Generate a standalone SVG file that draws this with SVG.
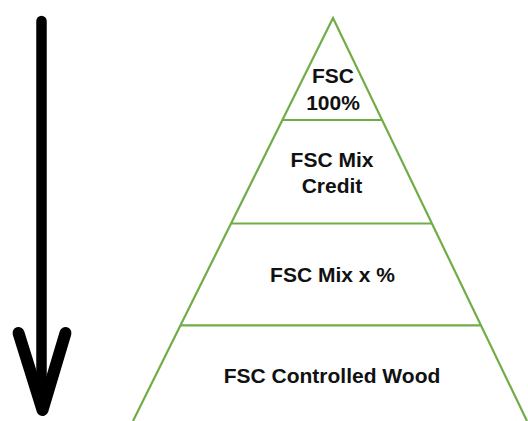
<svg xmlns="http://www.w3.org/2000/svg" width="528" height="421" viewBox="0 0 528 421">
<style>
.edge{stroke:#70AD47;stroke-width:2.2;fill:none}
.lbl{font-family:"Liberation Sans",Arial,sans-serif;font-weight:bold;font-size:21px;fill:#111;text-anchor:middle}
.arr{stroke:#000;fill:none;stroke-linecap:round;stroke-linejoin:round}
</style>
<rect width="528" height="421" fill="#fff"/>
<g id="connectors">
<g id="arrow">
<line class="arr" x1="41.5" y1="21" x2="41.5" y2="405" stroke-width="10.5"/>
<polyline class="arr" points="18.5,333 42.5,410 65.5,333" stroke-width="12"/>
</g>
</g>
<g id="pyramid">
<polyline class="edge" points="133,421 333,18 527,421"/>
</g>
<g id="tier1">
<line class="edge" x1="282.4" y1="120" x2="382.1" y2="120"/>
<text class="lbl" x="333" y="83.3">FSC</text>
<text class="lbl" x="333" y="110">100%</text>
</g>
<g id="tier2">
<line class="edge" x1="231.5" y1="223.5" x2="431.8" y2="223.5"/>
<text class="lbl" x="332" y="166.7">FSC Mix</text>
<text class="lbl" x="332" y="193.3">Credit</text>
</g>
<g id="tier3">
<line class="edge" x1="180.8" y1="325.3" x2="480.9" y2="325.3"/>
<text class="lbl" x="332.5" y="281.7">FSC Mix x %</text>
</g>
<g id="tier4">
<text class="lbl" x="332" y="383.3">FSC Controlled Wood</text>
</g>
</svg>
